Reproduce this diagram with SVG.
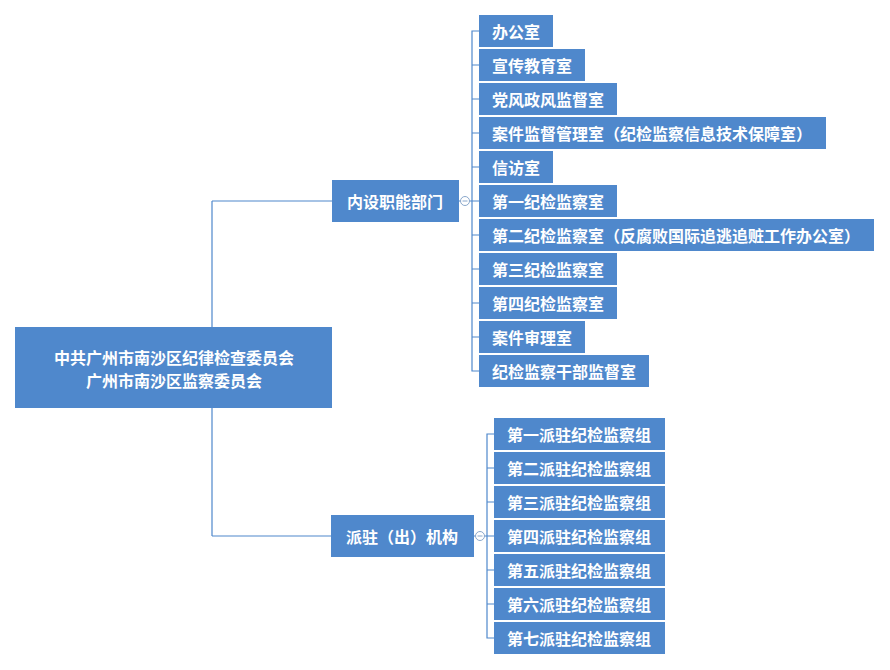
<svg xmlns="http://www.w3.org/2000/svg" width="890" height="670" viewBox="0 0 890 670">
<style>
.b{fill:#4f88cc}
.t{fill:#fff;font-family:"Noto Sans CJK SC",sans-serif;font-weight:bold;font-size:16px;dominant-baseline:central}
.l{fill:none;stroke:#4f88cc;stroke-width:1.2}
.c{fill:#fff;stroke:#8aa8cc;stroke-width:1}
</style>
<rect width="890" height="670" fill="#fff"/>
<g id="connectors">
<path class="l" d="M212 201V327M212 408V536M212 201H332M212 536H331"/>
<path class="l" d="M459 201H479M479 31H472V371H479M472 65H479M472 99H479M472 133H479M472 167H479M472 235H479M472 269H479M472 303H479M472 337H479"/>
<path class="l" d="M474 536H494M494 434H487V638H494M487 468H494M487 502H494M487 570H494M487 604H494"/>
<circle class="c" cx="465" cy="201" r="4.5"/><path d="M462.5 201H467.5" stroke="#8aa8cc"/>
<circle class="c" cx="480" cy="536" r="4.5"/><path d="M477.5 536H482.5" stroke="#8aa8cc"/>
</g>
<g id="root"><rect class="b" x="15" y="327" width="317" height="81"/>
<text class="t" x="174" y="357" text-anchor="middle">中共广州市南沙区纪律检查委员会</text>
<text class="t" x="174" y="380" text-anchor="middle">广州市南沙区监察委员会</text></g>
<g id="n1"><rect class="b" x="332" y="180" width="127" height="42"/><text class="t" x="395" y="201" text-anchor="middle">内设职能部门</text></g>
<g id="n2"><rect class="b" x="331" y="515" width="143" height="42"/><text class="t" x="402" y="536" text-anchor="middle">派驻（出）机构</text></g>
<g id="a1"><rect class="b" x="479" y="15" width="74" height="32"/><text class="t" x="492" y="31">办公室</text></g>
<g id="a2"><rect class="b" x="479" y="49" width="106" height="32"/><text class="t" x="492" y="65">宣传教育室</text></g>
<g id="a3"><rect class="b" x="479" y="83" width="138" height="32"/><text class="t" x="492" y="99">党风政风监督室</text></g>
<g id="a4"><rect class="b" x="479" y="117" width="347" height="32"/><text class="t" x="492" y="133">案件监督管理室（纪检监察信息技术保障室）</text></g>
<g id="a5"><rect class="b" x="479" y="151" width="74" height="32"/><text class="t" x="492" y="167">信访室</text></g>
<g id="a6"><rect class="b" x="479" y="185" width="138" height="32"/><text class="t" x="492" y="201">第一纪检监察室</text></g>
<g id="a7"><rect class="b" x="479" y="219" width="395" height="32"/><text class="t" x="492" y="235">第二纪检监察室（反腐败国际追逃追赃工作办公室）</text></g>
<g id="a8"><rect class="b" x="479" y="253" width="138" height="32"/><text class="t" x="492" y="269">第三纪检监察室</text></g>
<g id="a9"><rect class="b" x="479" y="287" width="138" height="32"/><text class="t" x="492" y="303">第四纪检监察室</text></g>
<g id="a10"><rect class="b" x="479" y="321" width="106" height="32"/><text class="t" x="492" y="337">案件审理室</text></g>
<g id="a11"><rect class="b" x="479" y="355" width="170" height="32"/><text class="t" x="492" y="371">纪检监察干部监督室</text></g>
<g id="p1"><rect class="b" x="494" y="418" width="171" height="32"/><text class="t" x="507" y="434">第一派驻纪检监察组</text></g>
<g id="p2"><rect class="b" x="494" y="452" width="171" height="32"/><text class="t" x="507" y="468">第二派驻纪检监察组</text></g>
<g id="p3"><rect class="b" x="494" y="486" width="171" height="32"/><text class="t" x="507" y="502">第三派驻纪检监察组</text></g>
<g id="p4"><rect class="b" x="494" y="520" width="171" height="32"/><text class="t" x="507" y="536">第四派驻纪检监察组</text></g>
<g id="p5"><rect class="b" x="494" y="554" width="171" height="32"/><text class="t" x="507" y="570">第五派驻纪检监察组</text></g>
<g id="p6"><rect class="b" x="494" y="588" width="171" height="32"/><text class="t" x="507" y="604">第六派驻纪检监察组</text></g>
<g id="p7"><rect class="b" x="494" y="622" width="171" height="32"/><text class="t" x="507" y="638">第七派驻纪检监察组</text></g>
</svg>
